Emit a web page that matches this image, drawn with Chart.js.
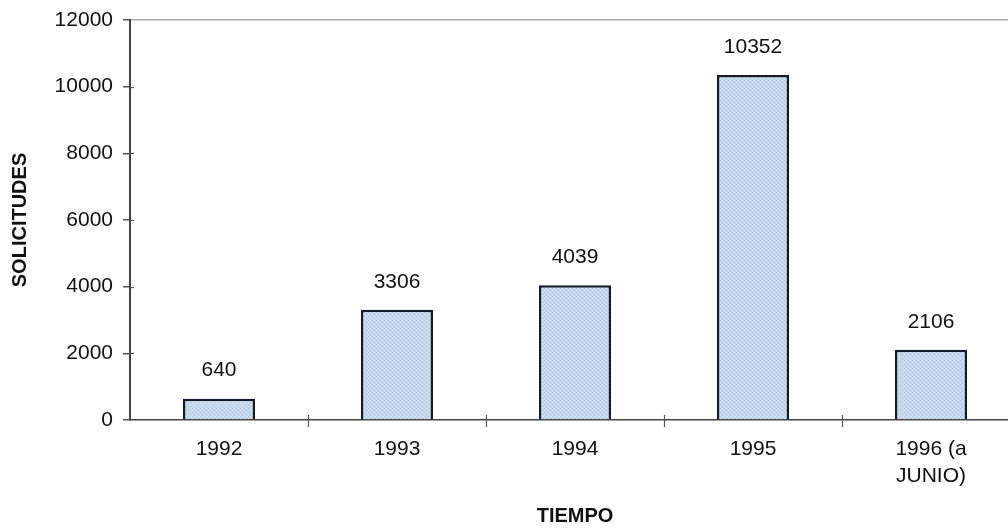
<!DOCTYPE html>
<html>
<head>
<meta charset="utf-8">
<script src="https://cdn.jsdelivr.net/npm/chart.js@4/dist/chart.umd.min.js"></script>
<style>
  html, body { margin: 0; padding: 0; background: #fff; overflow: hidden; width: 1008px; height: 528px; }
  #wrap { position: absolute; left: 0; top: 0; width: 1021px; height: 528px; }
</style>
</head>
<body>
<div id="wrap"><canvas id="c"></canvas></div>
<script>
const categories = [["1992"], ["1993"], ["1994"], ["1995"], ["1996 (a", "JUNIO)"]];
const solicitudes = [640, 3306, 4039, 10352, 2106];
const yTicks = [0, 2000, 4000, 6000, 8000, 10000, 12000];

const FONT = "'Liberation Sans', Arial, sans-serif";

function makePattern() {
  const p = document.createElement('canvas');
  p.width = 4; p.height = 4;
  const g = p.getContext('2d');
  g.fillStyle = '#c6d8ee';
  g.fillRect(0, 0, 4, 4);
  g.fillStyle = '#a9c0de';
  g.fillRect(0, 0, 1, 1);
  g.fillRect(2, 2, 1, 1);
  g.fillStyle = '#d6e4f3';
  g.fillRect(2, 0, 1, 1);
  g.fillRect(0, 2, 1, 1);
  return g.createPattern(p, 'repeat');
}

const valueLabels = {
  id: 'valueLabels',
  afterDatasetsDraw(chart) {
    const ctx = chart.ctx;
    const meta = chart.getDatasetMeta(0);
    ctx.save();
    ctx.font = "21px " + FONT;
    ctx.fillStyle = '#111';
    ctx.textAlign = 'center';
    ctx.textBaseline = 'middle';
    meta.data.forEach((bar, i) => {
      ctx.fillText(String(solicitudes[i]), bar.x, bar.y - 28);
    });
    ctx.restore();
  }
};

const tickCross = {
  id: 'tickCross',
  afterDraw(chart) {
    const xs = chart.scales.x;
    const ys = chart.scales.y;
    const ctx = chart.ctx;
    const y0 = chart.chartArea.bottom;
    const x0 = chart.chartArea.left;
    ctx.save();
    ctx.strokeStyle = '#555';
    ctx.lineWidth = 1.2;
    for (let i = 1; i <= categories.length; i++) {
      const x = Math.round(xs.getPixelForValue(i - 0.5)) + 0.5;
      ctx.beginPath();
      ctx.moveTo(x, y0 - 5);
      ctx.lineTo(x, y0 + 7);
      ctx.stroke();
    }
    yTicks.forEach(v => {
      if (v === 0 || v === 12000) return;
      const y = Math.round(ys.getPixelForValue(v)) + 0.5;
      ctx.beginPath();
      ctx.moveTo(x0, y);
      ctx.lineTo(x0 + 4, y);
      ctx.stroke();
    });
    ctx.restore();
  }
};

new Chart(document.getElementById('c'), {
  type: 'bar',
  data: {
    labels: categories,
    datasets: [{
      data: solicitudes,
      backgroundColor: makePattern(),
      borderColor: '#151a2a',
      borderWidth: 2.5,
      borderSkipped: 'bottom',
      barPercentage: 0.405,
      categoryPercentage: 1.0
    }]
  },
  options: {
    responsive: true,
    maintainAspectRatio: false,
    animation: false,
    layout: { padding: { top: 20, right: 1, left: 0, bottom: 0 } },
    plugins: { legend: { display: false }, tooltip: { enabled: false } },
    scales: {
      x: {
        offset: true,
        grid: { display: false, offset: true },
        border: { display: true, color: '#444', width: 1.5 },
        ticks: {
          color: '#111',
          font: { family: FONT, size: 21, lineHeight: 1.29 },
          padding: 8,
          maxRotation: 0,
          autoSkip: false
        },
        title: {
          display: true,
          text: 'TIEMPO',
          color: '#111',
          font: { family: FONT, size: 20, weight: 'bold' },
          padding: { top: 0, bottom: 0 }
        },
        afterFit(scale) { scale.height = 108; }
      },
      y: {
        min: 0,
        max: 12000,
        afterBuildTicks(scale) { scale.ticks = yTicks.map(v => ({ value: v })); },
        grid: {
          drawOnChartArea: true,
          color: (c) => (c.tick && c.tick.value === 12000) ? '#aaa' : 'rgba(0,0,0,0)',
          tickColor: '#555',
          tickLength: 7,
          lineWidth: 1.5
        },
        border: { display: true, color: '#444', width: 2 },
        ticks: {
          color: '#111',
          font: { family: FONT, size: 21 },
          padding: 10,
          callback: (v) => String(v)
        },
        title: {
          display: true,
          text: 'SOLICITUDES',
          color: '#111',
          font: { family: FONT, size: 20, weight: 'bold' },
          padding: { top: 8, bottom: 0 }
        },
        afterFit(scale) { scale.width = 130; scale.paddingTop = 0; scale.paddingBottom = 0; }
      }
    }
  },
  plugins: [valueLabels, tickCross]
});
</script>
</body>
</html>
